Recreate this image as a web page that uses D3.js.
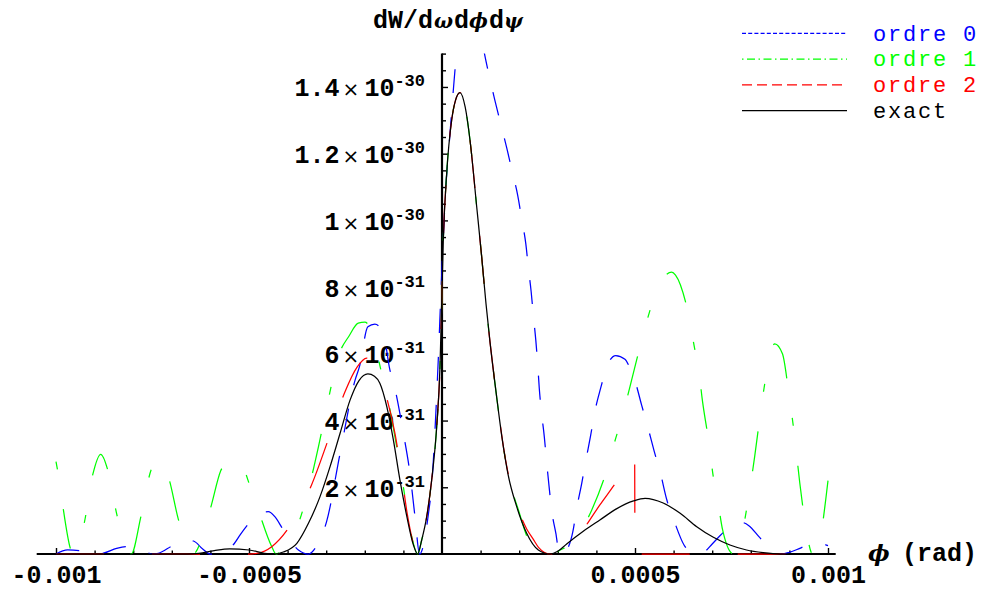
<!DOCTYPE html>
<html><head><meta charset="utf-8">
<script src="https://cdn.jsdelivr.net/npm/d3@7"></script>
<style>body{margin:0;background:#fff} svg{display:block}</style>
</head><body>
<svg id="c" width="981" height="592"></svg>
<script>
// units: phi in 1e-4 rad, values in 1e-31
const PHI_UNIT = 1e-4, VAL_UNIT = 1e-31;

const phiExact = [-10, -6.6, -6.3, -5.9, -5.5, -5.0, -4.6, -4.35, -4.11, -3.76, -3.46, -3.16, -2.90, -2.64, -2.38, -2.15, -1.92, -1.75, -1.61, -1.43, -1.26, -1.09, -0.91, -0.74, -0.63, -0.526, -0.396, -0.267, -0.137, -0.052, -0.008, 0.034, 0.122, 0.251, 0.35, 0.466, 0.60, 0.725, 0.899, 1.028, 1.14, 1.244, 1.417, 1.547, 1.718, 1.935, 2.194, 2.495, 2.80, 3.0, 3.23, 3.66, 4.09, 4.53, 4.96, 5.26, 5.73, 6.17, 6.60, 7.03, 7.46, 7.89, 8.32, 8.76, 10];
const valExact = [0, 0, 0.02, 0.10, 0.15, 0.12, 0.02, 0, 0.06, 0.32, 0.92, 1.72, 2.62, 3.62, 4.62, 5.20, 5.40, 5.33, 5.12, 4.42, 3.42, 2.22, 1.12, 0.27, 0, 0.42, 1.12, 2.22, 3.82, 5.61, 7.52, 9.41, 11.42, 13.01, 13.6, 13.83, 13.4, 12.41, 10.41, 8.91, 7.5, 6.35, 4.7, 3.55, 2.35, 1.42, 0.62, 0.12, 0, 0.08, 0.3, 0.68, 1.02, 1.36, 1.59, 1.67, 1.53, 1.22, 0.82, 0.5, 0.27, 0.12, 0.04, 0, 0];

const phiOrdre0 = [-10, -9.7, -9.4, -9.05, -8.77, -8.43, -8.17, -7.9, -7.5, -7.35, -7.0, -6.7, -6.44, -6.2, -6.01, -5.8, -5.6, -5.39, -5.23, -5.0, -4.75, -4.5, -4.33, -4.11, -3.72, -3.46, -3.25, -2.99, -2.64, -2.25, -2.14, -1.92, -1.74, -1.52, -1.35, -1.26, -1.0, -0.83, -0.70, -0.58, -0.35, -0.27, -0.12, 0.0, 0.1, 0.2, 0.3, 0.4, 0.55, 0.75, 0.95, 1.10, 1.23, 1.37, 1.52, 1.68, 1.82, 1.96, 2.07, 2.17, 2.24, 2.31, 2.37, 2.43, 2.48, 2.52, 2.58, 2.65, 2.71, 2.77, 2.84, 2.95, 3.04, 3.12, 3.25, 3.39, 3.49, 3.62, 3.73, 3.85, 3.96, 4.11, 4.29, 4.5, 4.74, 4.87, 5.0, 5.17, 5.34, 5.5, 5.67, 5.82, 6.02, 6.27, 6.51, 6.65, 6.77, 7.0, 7.22, 7.5, 7.75, 7.95, 8.21, 8.45, 8.67, 8.8, 9.0, 9.27, 9.62, 9.88, 10];
const valOrdre0 = [0, 0.12, 0.1, 0, 0.03, 0.17, 0.22, 0.2, 0, 0.02, 0.24, 0.42, 0.39, 0.15, 0, 0, 0.08, 0.3, 0.57, 0.92, 1.2, 1.27, 1.12, 0.72, 0.12, 0, 0.24, 0.97, 3.02, 5.22, 5.61, 6.81, 6.89, 6.62, 5.52, 5.16, 3.62, 2.42, 1.12, 0, 1.22, 2.02, 5.2, 8.6, 11.0, 12.5, 14.0, 15.3, 16.3, 16.6, 16.0, 15.0, 14.3, 13.6, 12.9, 12.16, 11.46, 10.76, 10.01, 9.31, 8.56, 7.86, 7.11, 6.41, 5.67, 4.97, 4.22, 3.52, 2.77, 2.07, 1.32, 0.62, 0.02, 0, 0.15, 0.67, 1.37, 2.12, 2.82, 3.55, 4.27, 4.97, 5.67, 5.95, 5.84, 5.57, 5.19, 4.47, 3.77, 3.07, 2.37, 1.64, 0.97, 0.27, 0.02, 0, 0.04, 0.3, 0.57, 0.85, 0.95, 0.85, 0.52, 0.22, 0.04, 0, 0.05, 0.17, 0.34, 0.3, 0.25];

const phiOrdre1 = [-10, -9.9, -9.81, -9.62, -9.55, -9.4, -9.27, -9.05, -8.84, -8.66, -8.45, -8.3, -8.05, -7.80, -7.52, -7.3, -7.07, -6.83, -6.45, -6.01, -5.73, -5.45, -5.17, -5.10, -4.76, -4.41, -4.3, -4.0, -3.72, -3.42, -3.2, -2.95, -2.69, -2.4, -2.17, -2.0, -1.8, -1.6, -1.39, -1.22, -1.0, -0.8, -0.63, -0.526, -0.396, -0.267, -0.137, -0.052, -0.008, 0.034, 0.122, 0.251, 0.35, 0.466, 0.60, 0.725, 0.899, 1.028, 1.14, 1.244, 1.417, 1.547, 1.718, 1.98, 2.24, 2.5, 2.9, 3.06, 3.32, 3.6, 3.88, 4.25, 4.54, 4.61, 4.87, 5.13, 5.41, 5.47, 5.75, 5.95, 6.05, 6.38, 6.57, 6.62, 6.75, 6.91, 7.05, 7.10, 7.27, 7.55, 7.70, 7.91, 8.10, 8.24, 8.39, 8.43, 8.62, 8.82, 8.99, 9.13, 9.27, 9.41, 9.6, 9.72, 9.78, 9.94, 10.0];
const valOrdre1 = [2.77, 2.1, 1.34, 0.14, 0, 0.35, 0.92, 2.37, 2.99, 2.52, 1.32, 0.6, 0, 1.12, 2.57, 2.85, 2.24, 1.04, 0, 1.32, 2.50, 2.88, 2.72, 2.47, 1.32, 0.22, 0, 0.35, 0.92, 2.12, 3.22, 4.6, 5.91, 6.55, 6.92, 6.95, 6.6, 5.6, 4.57, 3.52, 2.0, 0.6, 0, 0.42, 1.12, 2.22, 3.82, 5.61, 7.52, 9.41, 11.42, 13.01, 13.6, 13.83, 13.4, 12.41, 10.41, 8.91, 7.5, 6.35, 4.7, 3.55, 2.35, 1.32, 0.42, 0.1, 0, 0.12, 0.27, 0.7, 1.32, 2.44, 3.62, 3.87, 5.02, 6.21, 7.39, 7.61, 8.3, 8.45, 8.36, 7.21, 6.02, 5.77, 4.57, 3.37, 2.17, 1.92, 0.72, 0, 0.27, 1.47, 2.92, 4.14, 5.31, 5.57, 6.3, 6.0, 4.77, 3.57, 2.12, 0.92, 0, 0.22, 0.37, 1.62, 2.2];

const phiOrdre2 = [-10, -5.0, -4.80, -4.41, -3.98, -3.38, -2.95, -2.51, -2.2, -1.95, -1.75, -1.6, -1.43, -1.22, -1.05, -0.9, -0.74, -0.63, -0.526, -0.396, -0.267, -0.137, -0.052, -0.008, 0.034, 0.122, 0.251, 0.35, 0.466, 0.60, 0.725, 0.899, 1.028, 1.14, 1.244, 1.417, 1.59, 1.83, 2.0, 2.194, 2.35, 2.5, 2.80, 3.0, 3.36, 3.7, 4.09, 4.45, 4.80, 4.99, 5.0, 10];
const valOrdre2 = [0, 0, 0.02, 0.22, 0.77, 2.07, 3.42, 4.87, 5.6, 5.87, 5.7, 5.3, 4.67, 3.62, 2.4, 1.2, 0.3, 0, 0.42, 1.12, 2.22, 3.82, 5.61, 7.52, 9.41, 11.42, 13.01, 13.6, 13.83, 13.4, 12.41, 10.41, 8.91, 7.5, 6.35, 4.7, 3.22, 1.82, 1.25, 0.75, 0.47, 0.2, 0, 0.05, 0.22, 0.8, 1.47, 2.05, 2.65, 3.0, 0, 0];

const seriesNames = ['ordre 0', 'ordre 1', 'ordre 2', 'exact'];
const seriesColors = ['#0000ff', '#00ff00', '#ff0000', '#000000'];

const xMajorTicks = [-0.001, -0.0005, 0.0005, 0.001];
const xTickLabels = ['-0.001', '-0.0005', '0.0005', '0.001'];
const xMinorTicks = [-0.0009, -0.0008, -0.0007, -0.0006, -0.0004, -0.0003, -0.0002, -0.0001, 0.0001, 0.0002, 0.0003, 0.0004, 0.0006, 0.0007, 0.0008, 0.0009];
const yMajorTicks = [2e-31, 4e-31, 6e-31, 8e-31, 1e-30, 1.2e-30, 1.4e-30];
const yTickMantissa = ['2', '4', '6', '8', '1', '1.2', '1.4'];
const yTickExponent = ['-31', '-31', '-31', '-31', '-30', '-30', '-30'];
const yMinorTicks = [0.5e-31, 1e-31, 1.5e-31, 2.5e-31, 3e-31, 3.5e-31, 4.5e-31, 5e-31, 5.5e-31, 6.5e-31, 7e-31, 7.5e-31, 8.5e-31, 9e-31, 9.5e-31, 1.05e-30, 1.1e-30, 1.15e-30, 1.25e-30, 1.3e-30, 1.35e-30, 1.45e-30, 1.5e-30];

const MONO = "'Liberation Mono', 'Courier New', monospace";
const GREEK = "'DejaVu Serif', serif";

const svg = d3.select('#c');
const x = d3.scaleLinear().domain([-0.001, 0.001]).range([56, 828]);
const y = d3.scaleLinear().domain([0, 1.5e-30]).range([554, 53.6]);
const xExtent = [-0.00105, 0.00102];

svg.append('defs').append('clipPath').attr('id', 'clip').append('rect')
  .attr('x', x(xExtent[0])).attr('y', y(1.5e-30))
  .attr('width', x(xExtent[1]) - x(xExtent[0])).attr('height', y(0) - y(1.5e-30) + 3);

// X axis
const gx = svg.append('g').attr('transform', `translate(0,${y(0)})`);
gx.append('g').call(d3.axisBottom(x).tickValues(xMinorTicks).tickSize(-3.5).tickFormat(''))
  .call(g => g.select('.domain').remove());
gx.append('g').call(d3.axisBottom(x).tickValues(xMajorTicks).tickSize(-6).tickPadding(11)
    .tickFormat((d, i) => xTickLabels[i]))
  .call(g => g.select('.domain').remove())
  .attr('font-family', MONO).attr('font-size', 25).attr('font-weight', 'bold');
gx.selectAll('line').attr('stroke', '#000').attr('stroke-width', 1.4);
gx.selectAll('text').attr('fill', '#000');
svg.append('line').attr('x1', x(xExtent[0])).attr('x2', x(xExtent[1]))
  .attr('y1', y(0)).attr('y2', y(0)).attr('stroke', '#000').attr('stroke-width', 2.2);

// Y axis
const gy = svg.append('g').attr('transform', `translate(${x(0)},0)`);
gy.append('g').call(d3.axisLeft(y).tickValues(yMinorTicks).tickSize(-4).tickFormat(''))
  .call(g => g.select('.domain').remove());
const gyMaj = gy.append('g').call(d3.axisLeft(y).tickValues(yMajorTicks).tickSize(-6).tickPadding(17).tickFormat(''))
  .call(g => g.select('.domain').remove())
  .attr('font-family', MONO).attr('font-size', 25).attr('font-weight', 'bold');
gy.selectAll('line').attr('stroke', '#000').attr('stroke-width', 1.4);
gyMaj.selectAll('.tick text').each(function (d, i) {
  const t = d3.select(this).attr('fill', '#000').attr('dy', '0.36em');
  t.append('tspan').text(yTickMantissa[i]);
  t.append('tspan').attr('font-family', "'DejaVu Sans', sans-serif").attr('font-weight', 'normal')
    .attr('font-size', 20).attr('dx', 3).text('\u00d7');
  t.append('tspan').attr('dx', 5).text('10');
  t.append('tspan').attr('font-size', 17).attr('dy', -10).text(yTickExponent[i]);
});
svg.append('line').attr('x1', x(0)).attr('x2', x(0))
  .attr('y1', y(0) + 1).attr('y2', y(1.5e-30)).attr('stroke', '#000').attr('stroke-width', 2.2);

// Curves
const line = d3.line()
  .x(d => x(d[0] * PHI_UNIT)).y(d => y(d[1] * VAL_UNIT))
  .curve(d3.curveMonotoneX);
const seriesData = [
  d3.zip(phiOrdre0, valOrdre0),
  d3.zip(phiOrdre1, valOrdre1),
  d3.zip(phiOrdre2, valOrdre2),
  d3.zip(phiExact, valExact)
];
const plotDash = ['24,24', '8,40,40,40', '48,48', null];
const gCurves = svg.append('g').attr('clip-path', 'url(#clip)');
seriesData.forEach((data, i) => {
  gCurves.append('path').datum(data).attr('d', line)
    .attr('fill', 'none').attr('stroke', seriesColors[i]).attr('stroke-width', 1.25)
    .attr('stroke-dasharray', plotDash[i]);
});

// Titles
const title = svg.append('text').attr('x', 373).attr('y', 28)
  .attr('font-family', MONO).attr('font-size', 25).attr('font-weight', 'bold').attr('fill', '#000');
title.append('tspan').text('dW/d');
title.append('tspan').attr('font-family', GREEK).attr('font-style', 'italic').attr('font-size', 20).attr('dx', 1).text('\u03c9');
title.append('tspan').attr('dx', 1).text('d');
title.append('tspan').attr('font-family', GREEK).attr('font-style', 'italic').attr('font-size', 20).text('\u03d5');
title.append('tspan').attr('dx', 1).text('d');
title.append('tspan').attr('font-family', GREEK).attr('font-style', 'italic').attr('font-size', 20).text('\u03c8');

svg.append('text').attr('x', 868).attr('y', y(0) + 7)
  .attr('font-family', GREEK).attr('font-style', 'italic').attr('font-weight', 'bold')
  .attr('font-size', 23).attr('fill', '#000').text('\u03d5');
svg.append('text').attr('x', 977).attr('y', y(0) + 7).attr('text-anchor', 'end')
  .attr('font-family', MONO).attr('font-size', 25).attr('font-weight', 'bold').attr('fill', '#000')
  .text('(rad)');

// Legend
const legendDash = ['4,2.2', '1.5,3.5,8,3.5', '10,5', null];
const legendY = d3.scalePoint().domain(seriesNames).range([33.3, 110.7]);
const lg = svg.append('g');
seriesNames.forEach((name, i) => {
  lg.append('line').attr('x1', 742).attr('x2', 847).attr('y1', legendY(name)).attr('y2', legendY(name))
    .attr('stroke', seriesColors[i]).attr('stroke-width', 1.25).attr('stroke-dasharray', legendDash[i]);
  lg.append('text').attr('x', 873).attr('y', legendY(name)).attr('dy', '0.33em')
    .attr('font-family', MONO).attr('font-size', 22).attr('letter-spacing', 1.8)
    .attr('fill', seriesColors[i]).text(name);
});
</script>
</body></html>
